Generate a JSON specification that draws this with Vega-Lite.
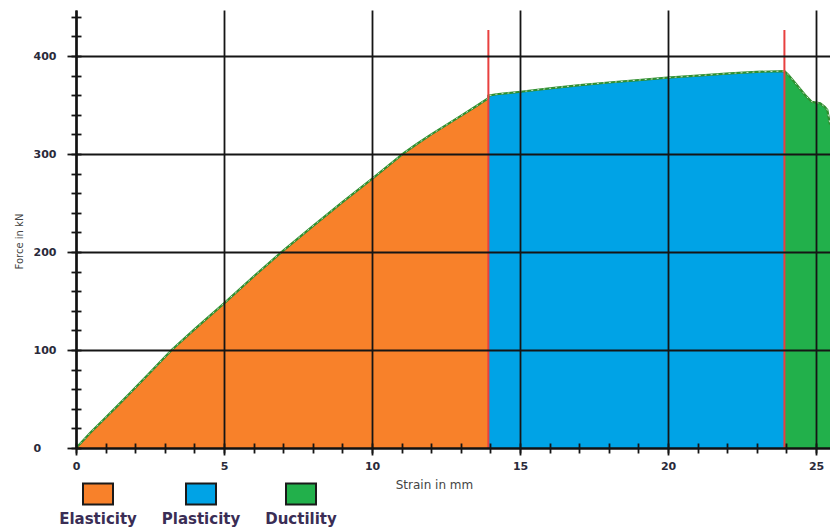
{
  "$schema": "https://vega.github.io/schema/vega-lite/v6.json",
  "width": 754,
  "height": 438,
  "autosize": {"type": "none"},
  "padding": {"left": 76, "top": 10, "right": 0, "bottom": 81},
  "background": "white",
  "config": {
    "view": {"stroke": null},
    "font": "DejaVu Sans",
    "axis": {"labelFont": "DejaVu Sans", "titleFont": "DejaVu Sans"}
  },
  "datasets": {
    "curve": [
      {"strain": 0, "force": 0, "phase": "Elasticity"},
      {"strain": 0.25, "force": 8, "phase": "Elasticity"},
      {"strain": 0.5, "force": 16, "phase": "Elasticity"},
      {"strain": 0.92, "force": 28.6, "phase": "Elasticity"},
      {"strain": 1.4, "force": 43, "phase": "Elasticity"},
      {"strain": 1.82, "force": 55.8, "phase": "Elasticity"},
      {"strain": 2.5, "force": 77, "phase": "Elasticity"},
      {"strain": 3.23, "force": 100, "phase": "Elasticity"},
      {"strain": 4.0, "force": 121, "phase": "Elasticity"},
      {"strain": 5.0, "force": 147.6, "phase": "Elasticity"},
      {"strain": 6.0, "force": 175, "phase": "Elasticity"},
      {"strain": 6.89, "force": 198.6, "phase": "Elasticity"},
      {"strain": 8.0, "force": 226.5, "phase": "Elasticity"},
      {"strain": 9.0, "force": 251, "phase": "Elasticity"},
      {"strain": 10.02, "force": 275.2, "phase": "Elasticity"},
      {"strain": 11.06, "force": 300.7, "phase": "Elasticity"},
      {"strain": 11.5, "force": 310, "phase": "Elasticity"},
      {"strain": 12.0, "force": 320, "phase": "Elasticity"},
      {"strain": 12.5, "force": 329.5, "phase": "Elasticity"},
      {"strain": 13.0, "force": 339, "phase": "Elasticity"},
      {"strain": 13.5, "force": 348.5, "phase": "Elasticity"},
      {"strain": 13.93, "force": 357, "phase": "Elasticity"},
      {"strain": 13.93, "force": 359.5, "phase": "Plasticity"},
      {"strain": 14.2, "force": 361, "phase": "Plasticity"},
      {"strain": 15.02, "force": 363.6, "phase": "Plasticity"},
      {"strain": 16.0, "force": 367, "phase": "Plasticity"},
      {"strain": 17.03, "force": 370.4, "phase": "Plasticity"},
      {"strain": 18.0, "force": 373, "phase": "Plasticity"},
      {"strain": 19.0, "force": 375.5, "phase": "Plasticity"},
      {"strain": 19.98, "force": 377.9, "phase": "Plasticity"},
      {"strain": 21.0, "force": 380, "phase": "Plasticity"},
      {"strain": 22.09, "force": 382.3, "phase": "Plasticity"},
      {"strain": 23.0, "force": 383.8, "phase": "Plasticity"},
      {"strain": 23.93, "force": 384.7, "phase": "Plasticity"},
      {"strain": 23.93, "force": 384.7, "phase": "Ductility"},
      {"strain": 24.06, "force": 381, "phase": "Ductility"},
      {"strain": 24.35, "force": 370.4, "phase": "Ductility"},
      {"strain": 24.63, "force": 360.2, "phase": "Ductility"},
      {"strain": 24.85, "force": 353.4, "phase": "Ductility"},
      {"strain": 25.14, "force": 351.7, "phase": "Ductility"},
      {"strain": 25.3, "force": 348, "phase": "Ductility"},
      {"strain": 25.38, "force": 345, "phase": "Ductility"},
      {"strain": 25.47, "force": 330, "phase": "Ductility"}
    ],
    "limits": [
      {"strain": 13.93, "top": 426.5},
      {"strain": 23.93, "top": 426.5}
    ]
  },
  "layer": [
    {
      "data": {"name": "curve"},
      "mark": {"type": "area", "clip": true, "opacity": 1},
      "encoding": {
        "x": {
          "field": "strain",
          "type": "quantitative",
          "scale": {"domain": [0, 25.47], "nice": false, "zero": false},
          "axis": {
            "orient": "bottom",
            "values": [0, 5, 10, 15, 20, 25],
            "grid": true,
            "gridColor": "#151515",
            "gridWidth": 1.8,
            "gridOpacity": 1,
            "tickSize": 7,
            "tickColor": "#151515",
            "tickWidth": 1.8,
            "domainColor": "#111111",
            "domainWidth": 2,
            "labelFontSize": 11,
            "labelFontWeight": "bold",
            "labelColor": "#2a2a3a",
            "labelPadding": 5,
            "labelFlush": false,
            "labelOverlap": false,
            "title": "Strain in mm",
            "titleFontSize": 12,
            "titleFontWeight": "normal",
            "titleColor": "#444444",
            "titleX": 358,
            "titleY": 40,
            "titleBaseline": "alphabetic",
            "zindex": 1
          }
        },
        "y": {
          "field": "force",
          "type": "quantitative",
          "stack": null,
          "scale": {"domain": [0, 447], "nice": false},
          "axis": {
            "orient": "left",
            "values": [0, 100, 200, 300, 400],
            "grid": true,
            "gridColor": "#151515",
            "gridWidth": 1.8,
            "gridOpacity": 1,
            "tickSize": 9,
            "tickColor": "#151515",
            "tickWidth": 1.8,
            "domainColor": "#111111",
            "domainWidth": 2.5,
            "labelFontSize": 11,
            "labelFontWeight": "bold",
            "labelColor": "#2a2a3a",
            "labelAlign": "left",
            "labelPadding": 34,
            "labelFlush": false,
            "labelOverlap": false,
            "title": "Force in kN",
            "titleFontSize": 10,
            "titleFontWeight": "normal",
            "titleColor": "#444444",
            "titleX": -54,
            "titleY": 231,
            "titleBaseline": "alphabetic",
            "zindex": 1
          }
        },
        "color": {
          "field": "phase",
          "type": "nominal",
          "scale": {
            "domain": ["Elasticity", "Plasticity", "Ductility"],
            "range": ["#F8812A", "#00A3E6", "#22B04B"]
          },
          "legend": {
            "orient": "none",
            "legendX": 6,
            "legendY": 468,
            "direction": "horizontal",
            "title": null,
            "symbolType": "M-1,-0.7H1V0.7H-1Z",
            "symbolSize": 900,
            "symbolOpacity": 1,
            "symbolStrokeColor": "#1a1a1a",
            "symbolStrokeWidth": 2,
            "labelFont": "DejaVu Sans",
            "labelFontWeight": "bold",
            "labelFontSize": 15,
            "labelColor": "#3a2d55",
            "labelAlign": "center",
            "labelBaseline": "alphabetic",
            "labelOffset": -16,
            "columnPadding": 24,
            "encode": {
              "symbols": {"update": {"stroke": {"value": "#1a1a1a"}, "strokeWidth": {"value": 2}}},
              "labels": {"update": {"dy": {"value": 30}}}
            }
          }
        }
      }
    },
    {
      "data": {"name": "curve"},
      "mark": {"type": "line", "color": "#2f8f2f", "strokeWidth": 2.2, "clip": true},
      "encoding": {
        "x": {
          "field": "strain",
          "type": "quantitative",
          "axis": {
            "orient": "bottom",
            "values": [0, 1, 2, 3, 4, 5, 6, 7, 8, 9, 10, 11, 12, 13, 14, 15, 16, 17, 18, 19, 20, 21, 22, 23, 24, 25],
            "offset": -5,
            "tickSize": 10,
            "tickColor": "#151515",
            "tickWidth": 1.8,
            "domain": false,
            "labels": false,
            "grid": false,
            "title": null,
            "zindex": 1
          }
        },
        "y": {
          "field": "force",
          "type": "quantitative",
          "axis": {
            "orient": "left",
            "values": [0, 20, 40, 60, 80, 100, 120, 140, 160, 180, 200, 220, 240, 260, 280, 300, 320, 340, 360, 380, 400, 420, 440],
            "offset": -5,
            "tickSize": 10,
            "tickColor": "#151515",
            "tickWidth": 1.8,
            "domain": false,
            "labels": false,
            "grid": false,
            "title": null,
            "zindex": 1
          }
        }
      }
    },
    {
      "data": {"name": "curve"},
      "mark": {"type": "line", "color": "#ffffff", "strokeWidth": 1, "strokeDash": [2, 4], "opacity": 0.75, "clip": true},
      "encoding": {
        "x": {"field": "strain", "type": "quantitative", "axis": null},
        "y": {"field": "force", "type": "quantitative", "axis": null}
      }
    },
    {
      "data": {"name": "limits"},
      "mark": {"type": "rule", "color": "#E8403F", "strokeWidth": 2},
      "encoding": {
        "x": {"field": "strain", "type": "quantitative", "axis": null},
        "y": {"field": "top", "type": "quantitative", "axis": null},
        "y2": {"datum": 0}
      }
    }
  ],
  "resolve": {"axis": {"x": "independent", "y": "independent"}}
}
